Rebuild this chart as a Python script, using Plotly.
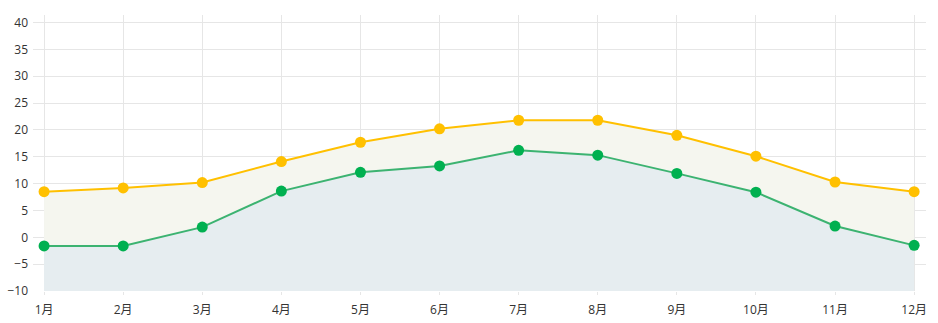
import plotly.graph_objects as go

months = ["1月", "2月", "3月", "4月", "5月", "6月", "7月", "8月", "9月", "10月", "11月", "12月"]
high = [8.5, 9.2, 10.2, 14.1, 17.7, 20.2, 21.8, 21.8, 19.0, 15.1, 10.3, 8.5]
low = [-1.6, -1.6, 1.9, 8.6, 12.1, 13.3, 16.2, 15.3, 11.9, 8.4, 2.1, -1.5]
y_ticks = [-10, -5, 0, 5, 10, 15, 20, 25, 30, 35, 40]
y_min = -10
baseline = [y_min] * len(months)

fig = go.Figure()
fig.add_trace(go.Scatter(x=months, y=baseline, mode="lines", line=dict(width=0),
                         showlegend=False, hoverinfo="skip"))
fig.add_trace(go.Scatter(x=months, y=low, mode="lines+markers", fill="tonexty",
                         fillcolor="#e6edf0",
                         line=dict(color="#3cb371", width=2),
                         marker=dict(color="#00b050", size=11),
                         showlegend=False))
fig.add_trace(go.Scatter(x=months, y=high, mode="lines+markers", fill="tonexty",
                         fillcolor="#f5f6ef",
                         line=dict(color="#ffc000", width=2),
                         marker=dict(color="#ffc000", size=11),
                         showlegend=False))

font_family = "Open Sans, Noto Sans CJK SC, sans-serif"
fig.update_layout(
    width=938, height=323,
    margin=dict(l=33, r=12, t=15, b=32),
    paper_bgcolor="white", plot_bgcolor="white",
    font=dict(family=font_family, size=12, color="#333333"),
)
fig.update_xaxes(
    type="category", range=[-0.14, 11.15],
    showgrid=True, gridcolor="#e6e6e6", gridwidth=1,
    ticks="outside", ticklen=3, tickcolor="#e6e6e6",
    ticklabelstandoff=5, automargin=False,
    showline=False, zeroline=False,
    tickfont=dict(size=12, color="#333333"),
)
fig.update_yaxes(
    range=[-10, 41.4], tickvals=y_ticks,
    showgrid=True, gridcolor="#e6e6e6", gridwidth=1,
    zeroline=False, showline=False, ticks="",
    ticklabelstandoff=4, automargin=False,
    tickfont=dict(size=12, color="#333333"),
)

fig.write_html("out.html")
